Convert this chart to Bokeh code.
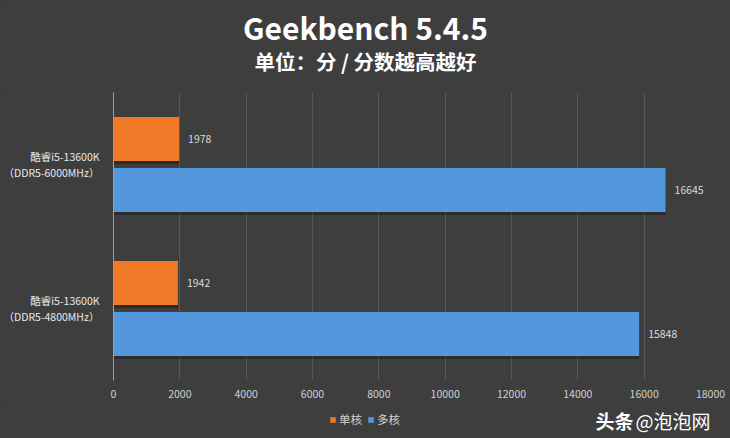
from bokeh.plotting import figure
from bokeh.layouts import column
from bokeh.models import ColumnDataSource, FactorRange, Range1d, Label, Legend, LegendItem, FixedTicker
from bokeh.transform import dodge
from bokeh.core.properties import value
from bokeh.embed import file_html
from bokeh.resources import INLINE

# ---- data ----
categories = ["酷睿i5-13600K\n（DDR5-6000MHz）", "酷睿i5-13600K\n（DDR5-4800MHz）"]
single_core = [1978, 1942]
multi_core = [16645, 15848]
series_names = ["单核", "多核"]
x_ticks = [0, 2000, 4000, 6000, 8000, 10000, 12000, 14000, 16000, 18000]
title_text = "Geekbench 5.4.5"
subtitle_text = "单位：分 / 分数越高越好"
watermark_a = "头条"
watermark_b = "@泡泡网"

ORANGE = "#F07A28"
BLUE = "#5398DC"
BG = "#3e3e3e"
FONT = "Noto Sans CJK SC"
W = 730
LEFT = 113   # frame left (shared by all rows, frames are aligned)


def strip(height):
    f = figure(width=W, height=height, output_backend="svg", toolbar_location=None,
               x_axis_type=None, y_axis_type=None, min_border=0,
               x_range=Range1d(0, 1), y_range=Range1d(0, 1))
    f.background_fill_color = BG
    f.border_fill_color = BG
    f.outline_line_color = None
    f.grid.visible = False
    return f


# ---- top strip: titles ----
top = strip(92)
top.add_layout(Label(x=365 - LEFT, y=66, x_units="screen", y_units="screen", text=title_text,
                     text_align="center", text_baseline="middle", text_color="white",
                     text_font=FONT, text_font_style="bold", text_font_size="30px"))
top.add_layout(Label(x=365 - LEFT, y=32, x_units="screen", y_units="screen", text=subtitle_text,
                     text_align="center", text_baseline="middle", text_color="white",
                     text_font=FONT, text_font_style="bold", text_font_size="20.5px"))

# ---- main chart ----
src = ColumnDataSource(dict(
    cat=categories,
    single=single_core,
    multi=multi_core,
    single_lbl=[str(v) for v in single_core],
    multi_lbl=[str(v) for v in multi_core],
))

p = figure(width=W, height=314, output_backend="svg", toolbar_location=None,
           y_range=FactorRange(factors=list(reversed(categories))),
           x_range=Range1d(0, 18000),
           min_border_left=LEFT, min_border_right=20, min_border_top=0, min_border_bottom=26)
p.background_fill_color = BG
p.border_fill_color = BG
p.outline_line_color = None

off = 0.177
h = 0.306
sh_y = 0.02
# soft shadows under the bars
p.hbar(y=dodge("cat", off - sh_y, range=p.y_range), left=0, right="single", height=h,
       source=src, fill_color="black", fill_alpha=0.3, line_color=None)
p.hbar(y=dodge("cat", -off - sh_y, range=p.y_range), left=0, right="multi", height=h,
       source=src, fill_color="black", fill_alpha=0.3, line_color=None)

p.hbar(y=dodge("cat", off, range=p.y_range), left=0, right="single", height=h,
       source=src, fill_color=ORANGE, line_color=None)
p.hbar(y=dodge("cat", -off, range=p.y_range), left=0, right="multi", height=h,
       source=src, fill_color=BLUE, line_color=None)

# value labels
p.text(x="single", y=dodge("cat", off, range=p.y_range), text="single_lbl", source=src,
       x_offset=9, text_baseline="middle", text_align="left", text_color="#d9d9d9",
       text_font=value(FONT), text_font_size="10.5px")
p.text(x="multi", y=dodge("cat", -off, range=p.y_range), text="multi_lbl", source=src,
       x_offset=9, text_baseline="middle", text_align="left", text_color="#d9d9d9",
       text_font=value(FONT), text_font_size="10.5px")

# axes
p.xaxis.ticker = FixedTicker(ticks=x_ticks)
p.xaxis.axis_line_color = None
p.xaxis.major_tick_line_color = None
p.xaxis.minor_tick_line_color = None
p.xaxis.major_label_text_color = "#d0d0d0"
p.xaxis.major_label_text_font = FONT
p.xaxis.major_label_text_font_size = "10.5px"
p.xaxis.major_label_standoff = 3

p.yaxis.axis_line_color = "#a0a0a0"
p.yaxis.major_tick_line_color = None
p.yaxis.minor_tick_line_color = None
p.yaxis.major_label_text_color = "#e8e8e8"
p.yaxis.major_label_text_font = FONT
p.yaxis.major_label_text_font_size = "10.5px"
p.yaxis.major_label_text_line_height = 1.1
p.yaxis.major_label_standoff = 8

p.xgrid.ticker = FixedTicker(ticks=x_ticks)
p.xgrid.grid_line_color = "#575757"
p.ygrid.grid_line_color = None

# ---- bottom strip: legend + watermark ----
bot = strip(32)
b1 = bot.hbar(y=-5, left=0, right=1, height=0.1, fill_color=ORANGE, line_color=None)
b2 = bot.hbar(y=-5, left=0, right=1, height=0.1, fill_color=BLUE, line_color=None)
legend = Legend(items=[LegendItem(label=series_names[0], renderers=[b1]),
                       LegendItem(label=series_names[1], renderers=[b2])],
                orientation="horizontal", location=(329 - LEFT, 11),
                glyph_width=7, glyph_height=7, label_standoff=3, spacing=5,
                padding=0, margin=0, border_line_color=None, background_fill_alpha=0,
                label_text_color="#d0d0d0", label_text_font=FONT, label_text_font_size="11.5px",
                label_height=14)
bot.add_layout(legend)
bot.add_layout(Label(x=595 - LEFT, y=18, x_units="screen", y_units="screen", text=watermark_a,
                     text_align="left", text_baseline="middle", text_color="white",
                     text_font=FONT, text_font_style="bold", text_font_size="19px"))
bot.add_layout(Label(x=635 - LEFT, y=18, x_units="screen", y_units="screen", text=watermark_b,
                     text_align="left", text_baseline="middle", text_color="white",
                     text_font=FONT, text_font_size="19px"))

layout = column(top, p, bot, spacing=0, styles={"background-color": BG})
open("out.html", "w").write(file_html(layout, INLINE))
